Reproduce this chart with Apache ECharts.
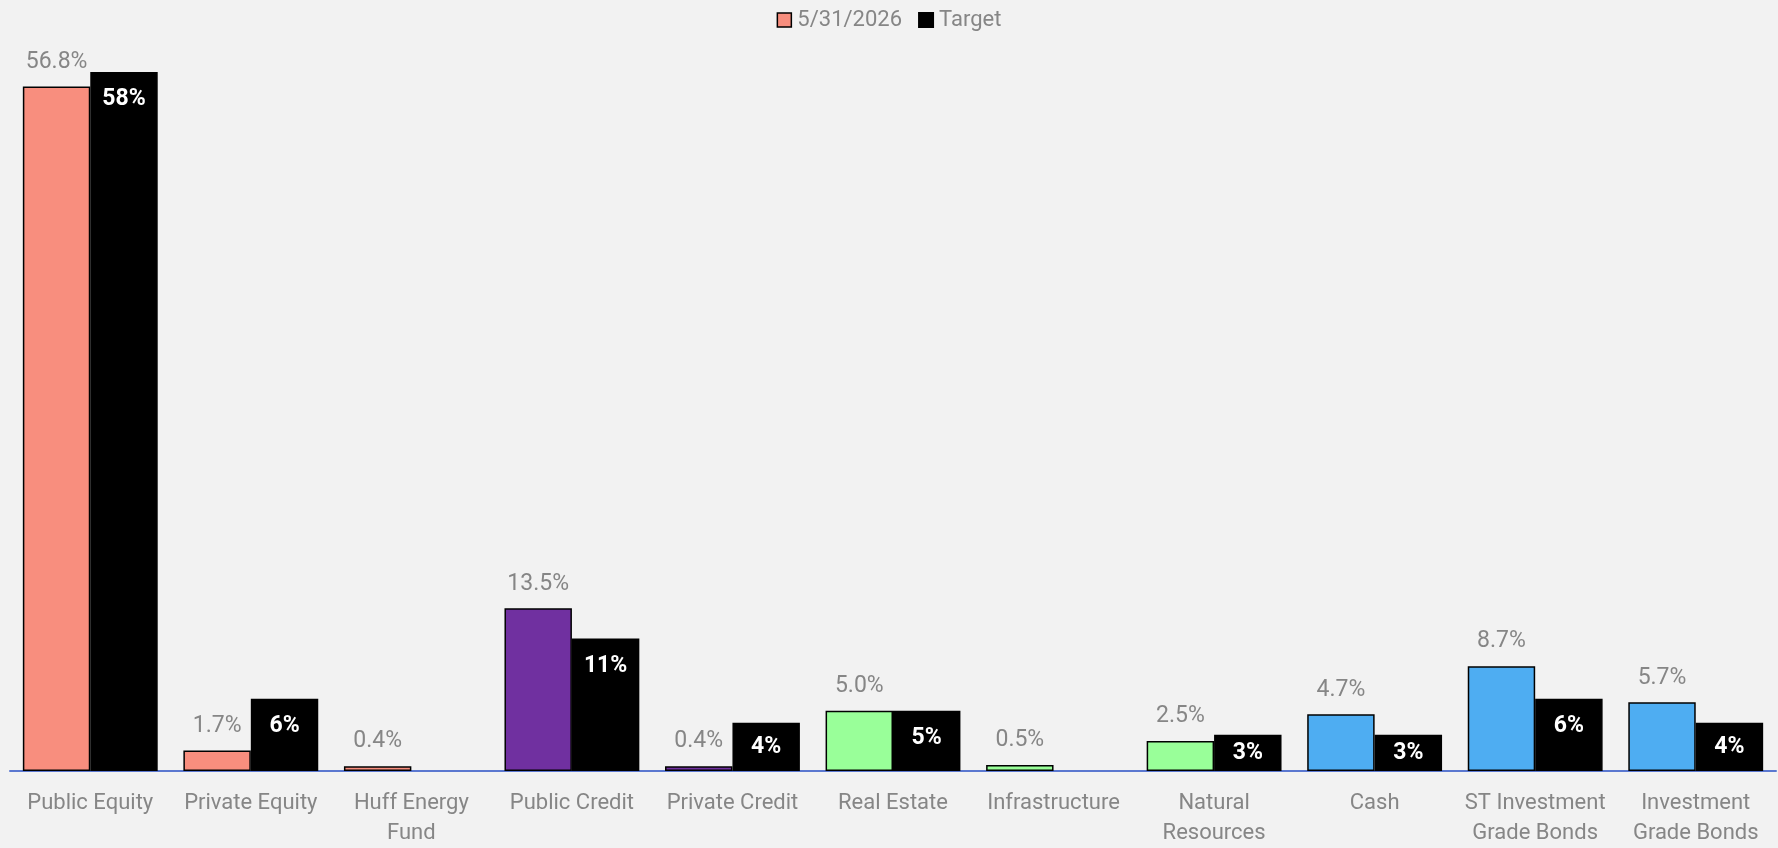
<!DOCTYPE html>
<html>
<head>
<meta charset="utf-8">
<script src="https://cdn.jsdelivr.net/npm/echarts@6/dist/echarts.min.js"></script>
<style>
  html, body { margin: 0; padding: 0; background: #F2F2F2; }
  #chart { width: 1778px; height: 848px; }
</style>
</head>
<body>
<div id="chart"></div>
<script>
// Asset classes along the x axis
const categories = [
  'Public Equity', 'Private Equity', 'Huff Energy\nFund', 'Public Credit',
  'Private Credit', 'Real Estate', 'Infrastructure', 'Natural\nResources',
  'Cash', 'ST Investment\nGrade Bonds', 'Investment\nGrade Bonds'
];
// Allocation as of 5/31/2026 (%)
const current = [56.8, 1.7, 0.4, 13.5, 0.4, 5.0, 0.5, 2.5, 4.7, 8.7, 5.7];
// Target allocation (%); null where there is no target
const target = [58, 6, null, 11, 4, 5, null, 3, 3, 6, 4];
const seriesNames = ['5/31/2026', 'Target'];

// Fill colour of each asset-class group
const PINK = '#F88E7E', PURPLE = '#7030A0', GREEN = '#99FF99', BLUE = '#4EADF2';
const groupColors = [PINK, PINK, PINK, PURPLE, PURPLE, GREEN, GREEN, GREEN, BLUE, BLUE, BLUE];

const FONT = 'Roboto';
const GREY = '#868686';

const chart = echarts.init(document.getElementById('chart'));

const currentData = current.map((v, i) => ({
  value: v,
  itemStyle: { color: groupColors[i] }
}));

// Short target bars carry their label in the middle, taller ones near the top
const targetData = target.map(v => v == null ? null : ({
  value: v,
  label: v <= 4 ? { position: 'inside' } : { position: 'insideTop', distance: 16 }
}));

chart.setOption({
  backgroundColor: '#F2F2F2',
  animation: false,
  legend: {
    top: 4,
    left: 'center',
    itemWidth: 14,
    itemHeight: 14,
    itemGap: 16,
    textStyle: { color: GREY, fontFamily: FONT, fontSize: 22, padding: [0, 0, 0, 1] },
    data: [
      { name: seriesNames[0], icon: 'rect', itemStyle: { color: PINK, borderColor: '#000', borderWidth: 1.5 } },
      { name: seriesNames[1], icon: 'rect', itemStyle: { color: '#000' } }
    ]
  },
  grid: { left: 10, right: 2, top: 48, bottom: 74, containLabel: false },
  xAxis: {
    type: 'category',
    data: categories,
    axisLine: { show: true, lineStyle: { color: '#5B78D0', width: 2 } },
    axisTick: { show: false },
    axisLabel: {
      color: GREY,
      fontFamily: FONT,
      fontSize: 22,
      lineHeight: 30,
      margin: 17,
      interval: 0
    }
  },
  yAxis: {
    type: 'value',
    min: 0,
    max: 60,
    show: false,
    splitLine: { show: false }
  },
  series: [
    {
      name: seriesNames[0],
      type: 'bar',
      barGap: '0%',
      barCategoryGap: '16%',
      data: currentData,
      itemStyle: { color: PINK, borderColor: '#000', borderWidth: 1.5 },
      label: {
        show: true,
        position: 'top',
        distance: 13,
        color: GREY,
        fontFamily: FONT,
        fontSize: 23,
        formatter: p => p.value.toFixed(1) + '%'
      }
    },
    {
      name: seriesNames[1],
      type: 'bar',
      data: targetData,
      itemStyle: { color: '#000', borderColor: '#000', borderWidth: 1.5 },
      label: {
        show: true,
        color: '#fff',
        fontFamily: FONT,
        fontWeight: 'bold',
        fontSize: 23,
        formatter: p => p.value + '%'
      }
    }
  ]
});
</script>
</body>
</html>
